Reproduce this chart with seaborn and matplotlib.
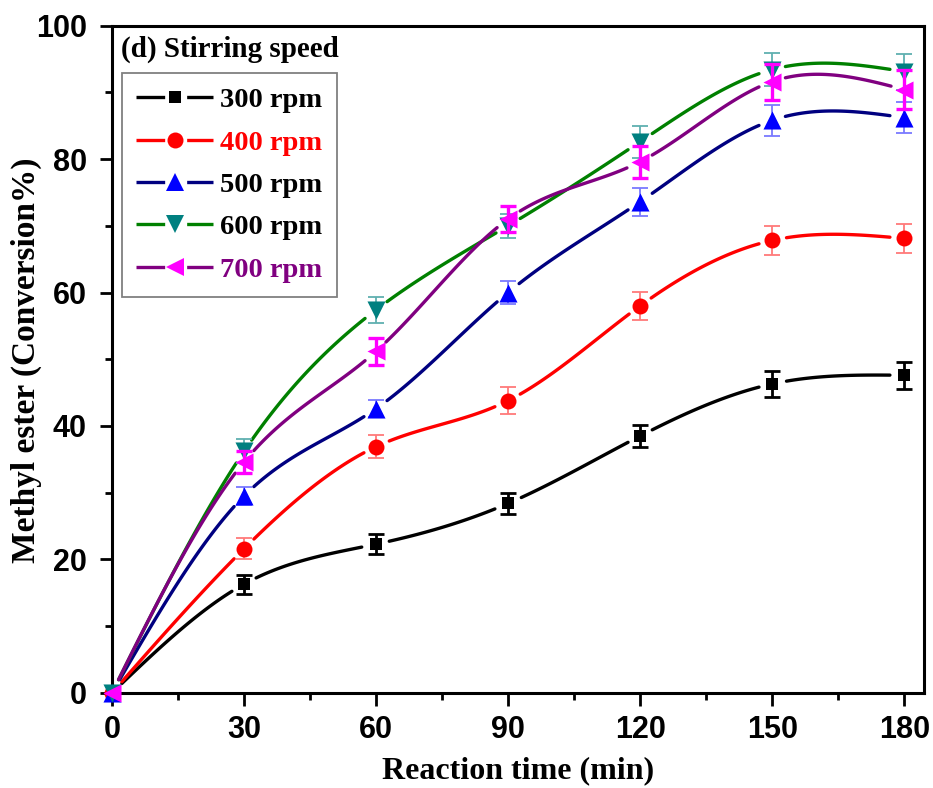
import numpy as np
import pandas as pd
import matplotlib
matplotlib.use("Agg")
import matplotlib.pyplot as plt
import seaborn as sns
from matplotlib.lines import Line2D
from matplotlib.ticker import MultipleLocator

# Reaction time (min)
time_min = [0, 30, 60, 90, 120, 150, 180]

# Methyl ester conversion (%) and its standard deviation for each stirring speed
conv_300 = [0, 16.3, 22.3, 28.4, 38.5, 46.3, 47.6]
err_300 = [0, 1.4, 1.5, 1.6, 1.7, 1.9, 2.0]
conv_400 = [0, 21.6, 36.9, 43.8, 58.0, 67.8, 68.1]
err_400 = [0, 1.6, 1.7, 2.0, 2.1, 2.2, 2.2]
conv_500 = [0, 29.5, 42.6, 60.0, 73.6, 85.8, 86.2]
err_500 = [0, 1.3, 1.3, 1.7, 2.1, 2.3, 2.3]
conv_600 = [0, 36.2, 57.4, 70.0, 82.6, 93.4, 93.1]
err_600 = [0, 1.8, 1.9, 1.8, 2.4, 2.5, 2.7]
conv_700 = [0, 34.6, 51.2, 71.0, 79.6, 91.6, 90.4]
err_700 = [0, 1.7, 2.0, 2.0, 2.4, 2.7, 2.9]

labels = ["300 rpm", "400 rpm", "500 rpm", "600 rpm", "700 rpm"]
values = [conv_300, conv_400, conv_500, conv_600, conv_700]
errors = [err_300, err_400, err_500, err_600, err_700]

line_colors = ["#000000", "#ff0000", "#000080", "#008000", "#800080"]
marker_colors = ["#000000", "#ff0000", "#0000ff", "#008080", "#ff00ff"]
err_colors = ["#000000", "#ff7a7a", "#7a7aff", "#5fb0b0", "#ff00ff"]
err_widths = [2.0, 1.3, 1.3, 1.3, 2.4]
text_colors = ["#000000", "#ff0000", "#000000", "#000000", "#800080"]
markers = ["s", "o", "^", "v", "<"]
marker_sizes = [9, 11.5, 13, 13, 13]

SERIF = ["Liberation Serif", "DejaVu Serif"]
SANS = ["Liberation Sans", "DejaVu Sans"]

sns.set_theme(style="ticks")
plt.rcParams["font.family"] = SANS
plt.rcParams["font.weight"] = "bold"
plt.rcParams["text.color"] = "black"
plt.rcParams["axes.labelcolor"] = "black"


def natural_spline(x, y, xs):
    """Natural cubic spline through (x, y), evaluated at xs."""
    x = np.asarray(x, float)
    y = np.asarray(y, float)
    n = len(x)
    h = np.diff(x)
    A = np.zeros((n, n))
    b = np.zeros(n)
    A[0, 0] = A[-1, -1] = 1.0
    for i in range(1, n - 1):
        A[i, i - 1] = h[i - 1]
        A[i, i] = 2 * (h[i - 1] + h[i])
        A[i, i + 1] = h[i]
        b[i] = 3 * ((y[i + 1] - y[i]) / h[i] - (y[i] - y[i - 1]) / h[i - 1])
    c = np.linalg.solve(A, b)
    idx = np.clip(np.searchsorted(x, xs, side="right") - 1, 0, n - 2)
    dx = xs - x[idx]
    bb = (y[1:] - y[:-1]) / h - h * (2 * c[:-1] + c[1:]) / 3
    d = (c[1:] - c[:-1]) / (3 * h)
    return y[idx] + bb[idx] * dx + c[idx] * dx ** 2 + d[idx] * dx ** 3


fig = plt.figure(figsize=(9.33, 7.88), dpi=100)
ax = fig.add_axes([0.12, 0.1206, 0.8704, 0.847])
ax.set_xlim(0, 184.5)
ax.set_ylim(0, 100)

GAP_PX = 13.5
xs = np.linspace(0, 180, 721)

for k in range(len(labels)):
    ys = natural_spline(time_min, values[k], xs)
    # leave a small gap in the curve around each data marker
    curve_px = ax.transData.transform(np.column_stack([xs, ys]))
    pts_px = ax.transData.transform(np.column_stack([time_min, values[k]]))
    dist = np.min(np.hypot(curve_px[:, None, 0] - pts_px[None, :, 0],
                           curve_px[:, None, 1] - pts_px[None, :, 1]), axis=1)
    keep = dist > GAP_PX
    seg = np.cumsum(np.r_[0, np.diff(keep.astype(int)) != 0])
    df = pd.DataFrame({"t": xs[keep], "c": ys[keep], "seg": seg[keep]})
    sns.lineplot(data=df, x="t", y="c", units="seg", estimator=None,
                 color=line_colors[k], lw=2.4, ax=ax, zorder=3 + 3 * k,
                 legend=False)

    ax.errorbar(time_min[1:], values[k][1:], yerr=errors[k][1:], fmt="none",
                ecolor=err_colors[k], elinewidth=err_widths[k],
                capsize=6, capthick=err_widths[k], zorder=4 + 3 * k)

    sns.scatterplot(x=time_min, y=values[k], marker=markers[k],
                    s=marker_sizes[k] ** 2, color=marker_colors[k],
                    edgecolor=marker_colors[k], linewidth=0, ax=ax,
                    zorder=5 + 3 * k, clip_on=False, legend=False)

# Axes frame and ticks
for side in ["left", "right", "top", "bottom"]:
    ax.spines[side].set_visible(True)
    ax.spines[side].set_linewidth(2.2)
    ax.spines[side].set_color("black")

ax.xaxis.set_major_locator(MultipleLocator(30))
ax.xaxis.set_minor_locator(MultipleLocator(15))
ax.yaxis.set_major_locator(MultipleLocator(20))
ax.yaxis.set_minor_locator(MultipleLocator(10))
ax.tick_params(which="major", direction="out", length=9, width=2.0,
               labelsize=22, top=False, right=False, colors="black")
ax.tick_params(axis="x", which="major", pad=7)
ax.tick_params(axis="y", which="major", pad=9)
ax.tick_params(which="minor", direction="out", length=5, width=2.0,
               top=False, right=False, colors="black")
for lab in ax.get_xticklabels() + ax.get_yticklabels():
    lab.set_fontweight("bold")
    lab.set_family(SANS)

ax.set_xlabel("Reaction time (min)", family=SERIF, fontsize=23,
              fontweight="bold", labelpad=8, color="black")
ax.set_ylabel("Methyl ester (Conversion%)", family=SERIF, fontsize=24,
              fontweight="bold", color="black")
ax.yaxis.set_label_coords(-0.0862, 0.498)
ax.grid(False)

# Panel caption
ax.text(0.011, 0.953, "(d) Stirring speed", transform=ax.transAxes,
        family=SERIF, fontsize=21, fontweight="bold", va="baseline",
        ha="left", color="black")

# Legend: line - marker - line
handles = []
for k in range(len(labels)):
    ln = Line2D([], [], color=line_colors[k], lw=2.4,
                linestyle=(0, (8.6, 6.6)))
    mk = Line2D([], [], color=marker_colors[k], marker=markers[k],
                markersize=marker_sizes[k], markeredgewidth=0, ls="none")
    handles.append((ln, mk))

leg = ax.legend(handles, labels, loc="upper left",
                bbox_to_anchor=(0.0123, 0.929), borderaxespad=0,
                prop={"family": SERIF, "weight": "bold", "size": 20.5},
                handlelength=2.7, handletextpad=0.25, labelspacing=0.58,
                borderpad=0.5, frameon=True, fancybox=False,
                edgecolor="#808080", framealpha=1)
leg.get_frame().set_linewidth(1.3)
for txt, col in zip(leg.get_texts(), text_colors):
    txt.set_color(col)

fig.savefig("out.png", dpi=100, facecolor="white")
